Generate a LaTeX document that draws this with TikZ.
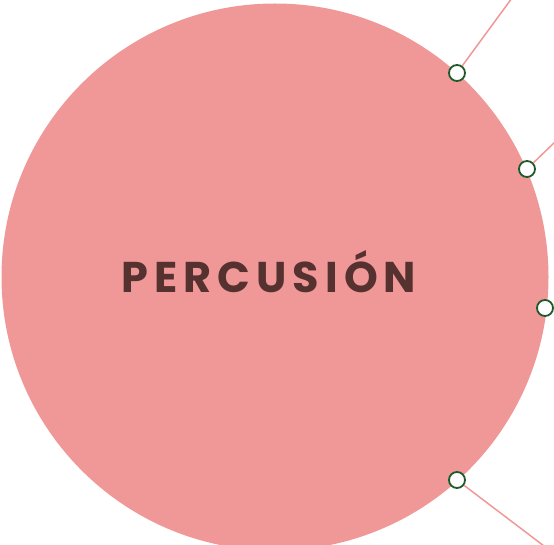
\documentclass[tikz,border=0pt]{standalone}
\usepackage{fontspec}
\setmainfont{Poppins}
\newfontfamily\titlefont[LetterSpace=14]{Poppins Bold}
\usepackage{xcolor}
\definecolor{petal}{HTML}{F09897}
\definecolor{cocoa}{HTML}{55312F}
\definecolor{pine}{HTML}{1E5A2A}
\usetikzlibrary{calc}

\begin{document}
\begin{tikzpicture}[x=1pt,y=-1pt,
    knob/.style={draw=pine,line width=1.8pt,fill=white,circle,inner sep=0pt,minimum size=16pt},
    spoke/.style={draw=petal,line width=1.5pt}]
        \useasboundingbox (0,0) rectangle (554,545);
        % Define points
        \coordinate (C) at (275,277);
        \coordinate (E1) at (512,-2);
        \coordinate (E2) at (556,141);
        \coordinate (E3) at (544,546);
        % Big disc
        \fill[petal] (C) circle (273.5);
        % Spokes
        \node[knob] (K1) at (457,73) {};
        \node[knob] (K2) at (527,169) {};
        \node[knob] (K3) at (545,308) {};
        \node[knob] (K4) at (457,480) {};
        \draw[spoke] (K1) -- (E1);
        \draw[spoke] (K2) -- (E2);
        \draw[spoke] (K4) -- (E3);
        % Label
        \node[anchor=base,text=cocoa,font=\titlefont\fontsize{43}{43}\selectfont] (title) at (269,292) {PERCUSIÓN};
      \end{tikzpicture}
\end{document}
